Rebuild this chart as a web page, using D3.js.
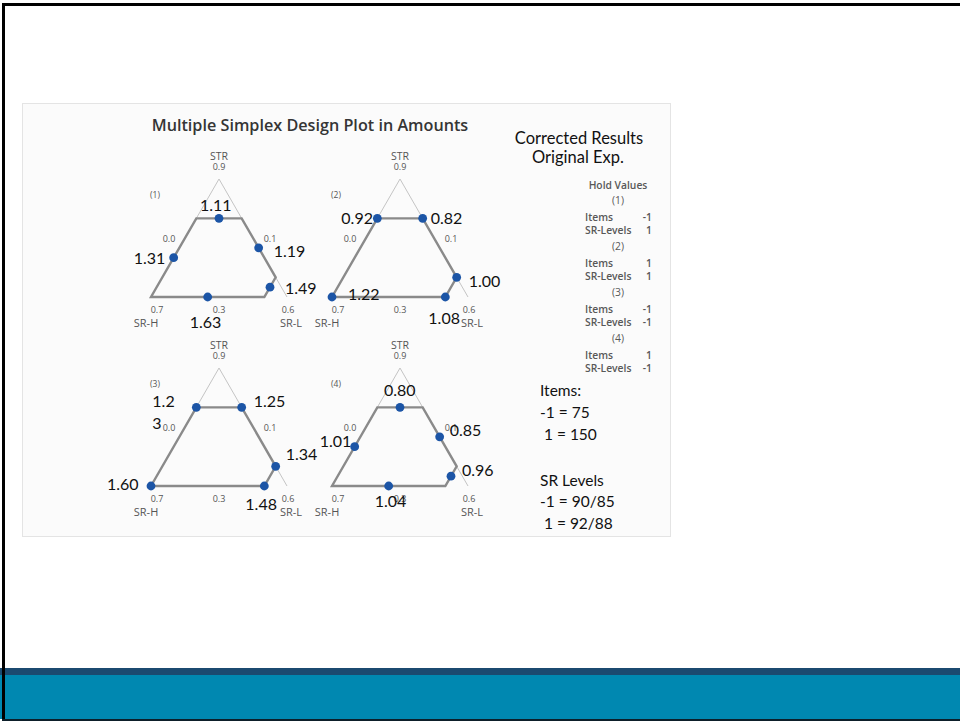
<!DOCTYPE html>
<html>
<head>
<meta charset="utf-8">
<script src="https://cdn.jsdelivr.net/npm/d3@7"></script>
<style>
  html, body { margin: 0; padding: 0; background: #ffffff; }
  svg { display: block; }
</style>
</head>
<body>
<svg id="slide" width="960" height="721"></svg>
<script>
// ---- Mixture components (amounts) ----
const components = ["STR", "SR-H", "SR-L"];
const vertexAmounts = [0.9, 0.7, 0.6];   // amount of each component at its own vertex
const lowerBounds = [0.3, 0.1, 0.0];     // amount of each component along the opposite edge

// Constrained design region, points given as [STR, SR-H, SR-L]
const regionVertices = [
  [0.7, 0.3, 0.0],
  [0.7, 0.1, 0.2],
  [0.4, 0.1, 0.5],
  [0.3, 0.2, 0.5],
  [0.3, 0.7, 0.0]
];
const edgeMidpoints = [
  [0.7, 0.2, 0.1],
  [0.55, 0.1, 0.35],
  [0.35, 0.15, 0.5],
  [0.3, 0.45, 0.25],
  [0.5, 0.5, 0.0]
];

// ---- Responses for each hold-value combination ----
const plotIds = ["(1)", "(2)", "(3)", "(4)"];
const responses1 = [1.11, 1.19, 1.49, 1.63, 1.31];   // at edge midpoints
const responses2 = [0.92, 0.82, 1.00, 1.08, 1.22];   // at region vertices
const responses3 = [1.23, 1.25, 1.34, 1.48, 1.60];   // at region vertices
const responses4 = [0.80, 0.85, 0.96, 1.04, 1.01];   // at edge midpoints

// ---- Hold values ----
const holdItems = [-1, 1, -1, 1];
const holdSRLevels = [1, 1, -1, -1];

// ---- Factor level notes ----
const itemsLevels = ["-1 = 75", " 1 = 150"];
const srLevels = ["-1 = 90/85", " 1 = 92/88"];

// ---- Layout ----
const W = 960, H = 721;
const triH = 118, triHalf = 68;
const panelOrigins = [[219, 179], [400, 179], [219, 368], [400, 368]];
// label offsets from each point (start x, baseline y, optional wrap position)
const labelOffsets = [
  [[-19, -7], [15, 9], [15, 7], [-18, 31], [-40, 6]],
  [[-36, 6], [8, 6], [12, 10], [-17, 27], [16, 3]],
  [[-44, 0, 3], [12, 0], [10, -6], [-19, 24], [-44, 4]],
  [[-16, -11], [10, -1], [11, 0], [-14, 21], [-35, 0]]
];

const svg = d3.select("#slide");
const smallFont = "'Open Sans', 'DejaVu Sans', sans-serif";
const bigFont = "Lato, 'Open Sans', sans-serif";

svg.append("rect").attr("width", W).attr("height", H).attr("fill", "#ffffff");

// chart panel
svg.append("rect")
  .attr("x", 22.5).attr("y", 103.5).attr("width", 648).attr("height", 433)
  .attr("fill", "#fbfbfb").attr("stroke", "#e4e4e4").attr("stroke-width", 1);

// title
svg.append("text")
  .attr("x", 310).attr("y", 131)
  .attr("text-anchor", "middle")
  .attr("font-family", smallFont).attr("font-weight", 600)
  .attr("font-size", 16.2).attr("fill", "#353535")
  .text("Multiple Simplex Design Plot in Amounts");

// ternary projection: x from (SR-L − SR-H), y from STR
const xScale = d3.scaleLinear()
  .domain([lowerBounds[2] - vertexAmounts[1], vertexAmounts[2] - lowerBounds[1]])
  .range([-triHalf, triHalf]);
const yScale = d3.scaleLinear()
  .domain([lowerBounds[0], vertexAmounts[0]])
  .range([triH, 0]);
const px = d => xScale(d[2] - d[1]);
const py = d => yScale(d[0]);

// full simplex vertices as amounts
const vSTR = [vertexAmounts[0], lowerBounds[1], lowerBounds[2]];
const vSRH = [lowerBounds[0], vertexAmounts[1], lowerBounds[2]];
const vSRL = [lowerBounds[0], lowerBounds[1], vertexAmounts[2]];

const plots = [
  { id: plotIds[0], points: edgeMidpoints, values: responses1 },
  { id: plotIds[1], points: regionVertices, values: responses2 },
  { id: plotIds[2], points: regionVertices, values: responses3 },
  { id: plotIds[3], points: edgeMidpoints, values: responses4 }
];

const line = d3.line().x(px).y(py);
const fmt = d3.format(".2f");

plots.forEach((p, i) => {
  const [ox, oy] = panelOrigins[i];
  const g = svg.append("g").attr("transform", `translate(${ox},${oy})`);

  // sides of the full simplex
  g.append("path")
    .attr("d", line([vSRH, vSTR, vSRL]))
    .attr("fill", "none").attr("stroke", "#c4c4c4").attr("stroke-width", 1);

  // constrained region
  g.append("path")
    .attr("d", line(regionVertices) + "Z")
    .attr("fill", "none").attr("stroke", "#8a8a8a").attr("stroke-width", 2.4)
    .attr("stroke-linejoin", "miter");

  const small = (x, y, t, size, anchor) => g.append("text")
    .attr("x", x).attr("y", y)
    .attr("text-anchor", anchor || "middle")
    .attr("font-family", smallFont).attr("font-size", size)
    .attr("fill", "#555555").text(t);

  small(px(vSTR), py(vSTR) - 19, components[0], 10.5);
  small(px(vSTR), py(vSTR) - 9.5, vertexAmounts[0].toFixed(1), 9);
  small(px(vSRH) + 6, py(vSRH) + 16, vertexAmounts[1].toFixed(1), 9);
  small(px(vSRH) - 5, py(vSRH) + 30, components[1], 11);
  small(px(vSRL) + 1, py(vSRL) + 16, vertexAmounts[2].toFixed(1), 9);
  small(px(vSRL) + 4, py(vSRL) + 30, components[2], 11);
  // lower-bound ticks at the middle of each side
  small((px(vSRH) + px(vSTR)) / 2 - 16, (py(vSRH) + py(vSTR)) / 2 + 4, lowerBounds[2].toFixed(1), 9);
  small((px(vSRL) + px(vSTR)) / 2 + 17, (py(vSRL) + py(vSTR)) / 2 + 4, lowerBounds[1].toFixed(1), 9);
  small((px(vSRH) + px(vSRL)) / 2, py(vSRH) + 16, lowerBounds[0].toFixed(1), 9);
  small(-64, 19, p.id, 8.5);

  // design points
  g.selectAll("circle.pt").data(p.points).join("circle")
    .attr("class", "pt")
    .attr("cx", px).attr("cy", py).attr("r", 4.4)
    .attr("fill", "#1c55a6");

  // response labels
  p.points.forEach((d, k) => {
    const off = labelOffsets[i][k];
    const txt = fmt(p.values[k]);
    const t = g.append("text")
      .attr("x", px(d) + off[0]).attr("y", py(d) + off[1])
      .attr("font-family", bigFont).attr("font-size", 16)
      .attr("fill", "#111111");
    if (off[2]) {
      t.append("tspan").text(txt.slice(0, off[2]));
      t.append("tspan").attr("x", px(d) + off[0]).attr("dy", 22).text(txt.slice(off[2]));
    } else {
      t.text(txt);
    }
  });
});

// right-hand notes
const note = (x, y, t, opts) => svg.append("text")
  .attr("x", x).attr("y", y)
  .attr("text-anchor", (opts && opts.anchor) || "start")
  .attr("font-family", (opts && opts.family) || bigFont)
  .attr("font-size", (opts && opts.size) || 15.5)
  .attr("font-weight", (opts && opts.weight) || 400)
  .attr("fill", (opts && opts.fill) || "#111111")
  .text(t);

note(579, 144, "Corrected Results", { anchor: "middle", size: 16.5 });
note(578, 163, "Original Exp.", { anchor: "middle", size: 16.5 });

const hv = { family: smallFont, size: 10.3, weight: 600, fill: "#585858" };
note(618, 189, "Hold Values", Object.assign({}, hv, { anchor: "middle" }));
plotIds.forEach((id, i) => {
  const y0 = 204 + i * 46;
  note(618, y0, id, Object.assign({}, hv, { anchor: "middle", weight: 400 }));
  note(585, y0 + 17, "Items", hv);
  note(652, y0 + 17, String(holdItems[i]), Object.assign({}, hv, { anchor: "end" }));
  note(585, y0 + 30, "SR-Levels", hv);
  note(652, y0 + 30, String(holdSRLevels[i]), Object.assign({}, hv, { anchor: "end" }));
});

note(540, 396, "Items:");
itemsLevels.forEach((t, i) => note(540, 418 + i * 22, t).attr("xml:space", "preserve"));
note(540, 486, "SR Levels");
srLevels.forEach((t, i) => note(540, 507 + i * 22, t).attr("xml:space", "preserve"));

// slide frame and footer bands
svg.append("rect").attr("x", 0).attr("y", 668).attr("width", W).attr("height", 7).attr("fill", "#1b4a70");
svg.append("rect").attr("x", 0).attr("y", 675).attr("width", W).attr("height", 44).attr("fill", "#0088b1");
svg.append("rect").attr("x", 2).attr("y", 3).attr("width", W - 2).attr("height", 3).attr("fill", "#000000");
svg.append("rect").attr("x", 2).attr("y", 3).attr("width", 3).attr("height", H - 3).attr("fill", "#000000");
svg.append("rect").attr("x", 2).attr("y", 719).attr("width", W - 2).attr("height", 2).attr("fill", "#0d1f2a");
</script>
</body>
</html>
